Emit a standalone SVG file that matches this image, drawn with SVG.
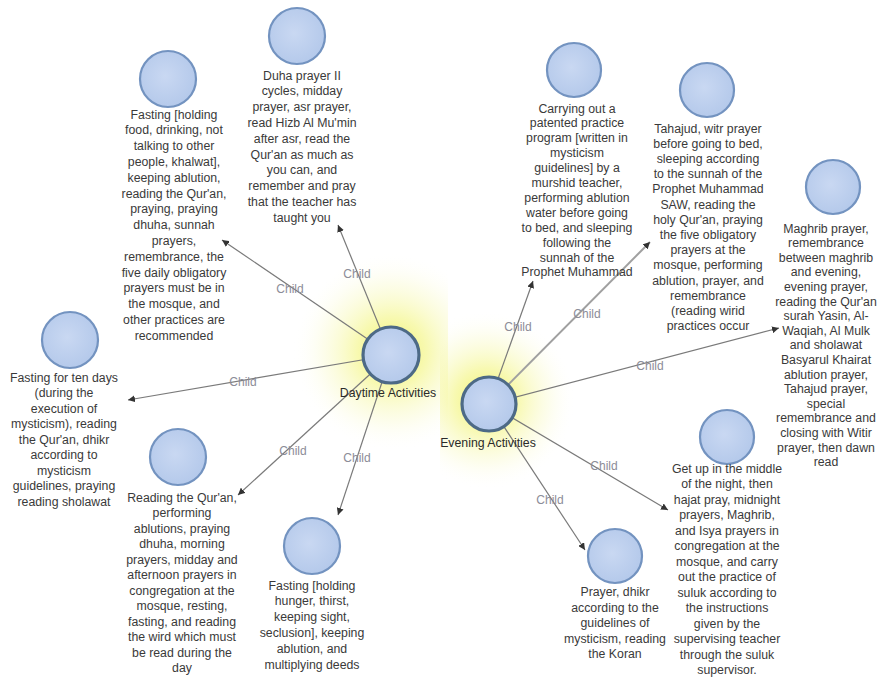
<svg xmlns="http://www.w3.org/2000/svg" width="877" height="677" viewBox="0 0 877 677">
<style>
.nt{font-family:"Liberation Sans",Arial,sans-serif;font-size:12.3px;fill:#3a3a3a;text-anchor:middle}
.ct{font-family:"Liberation Sans",Arial,sans-serif;font-size:12.3px;fill:#2a2a2a;text-anchor:middle}
.lb{font-family:"Liberation Sans",Arial,sans-serif;font-size:12px;fill:#8c8c98;text-anchor:middle}
.leaf{fill:url(#nodeFill);stroke:#7393c0;stroke-width:2.2}
.hub{fill:url(#nodeFill);stroke:#4d6a86;stroke-width:3.2}
.edge{stroke:#7a7a7a;stroke-width:1.2;fill:none;marker-end:url(#arr)}
</style>
<defs>
<radialGradient id="nodeFill" cx="0.45" cy="0.45" r="0.6">
<stop offset="0" stop-color="#c9d8f2"/>
<stop offset="1" stop-color="#b3c8ea"/>
</radialGradient>
<radialGradient id="glow" cx="0.5" cy="0.5" r="0.5">
<stop offset="0" stop-color="#eef04a" stop-opacity="0.85"/>
<stop offset="0.35" stop-color="#f3f57e" stop-opacity="0.6"/>
<stop offset="0.7" stop-color="#f8f9c0" stop-opacity="0.3"/>
<stop offset="1" stop-color="#ffffff" stop-opacity="0"/>
</radialGradient>
<clipPath id="leftHalf"><rect x="0" y="0" width="448" height="677"/></clipPath>
<clipPath id="rightHalf"><rect x="440" y="0" width="437" height="677"/></clipPath>
<marker id="arr" viewBox="0 0 10 10" refX="10" refY="5" markerWidth="7" markerHeight="7" markerUnits="userSpaceOnUse" orient="auto">
<path d="M0,0 L10,5 L0,10 z" fill="#333"/>
</marker>
</defs>
<rect width="877" height="677" fill="#ffffff"/>
<g id="glows">
<ellipse cx="392" cy="352" rx="100" ry="100" fill="url(#glow)" clip-path="url(#leftHalf)"/>
<ellipse cx="486" cy="400" rx="90" ry="90" fill="url(#glow)" clip-path="url(#rightHalf)"/>
</g>
<g id="connectors">
<line class="edge" x1="391" y1="355" x2="222" y2="240"/>
<line class="edge" x1="391" y1="355" x2="338" y2="225"/>
<line class="edge" x1="391" y1="355" x2="128" y2="400"/>
<line class="edge" x1="391" y1="355" x2="238" y2="495"/>
<line class="edge" x1="391" y1="355" x2="338" y2="515"/>
<line class="edge" x1="489" y1="404" x2="533" y2="281"/>
<line class="edge" x1="489" y1="404" x2="650" y2="242" style="stroke:#a0a0a0;stroke-width:2"/>
<line class="edge" x1="489" y1="404" x2="779" y2="328"/>
<line class="edge" x1="489" y1="404" x2="668" y2="510"/>
<line class="edge" x1="489" y1="404" x2="585" y2="550"/>
<text class="lb" x="290" y="293">Child</text>
<text class="lb" x="357" y="278">Child</text>
<text class="lb" x="243" y="386">Child</text>
<text class="lb" x="293" y="455">Child</text>
<text class="lb" x="357" y="462">Child</text>
<text class="lb" x="518" y="331">Child</text>
<text class="lb" x="587" y="318">Child</text>
<text class="lb" x="650" y="370">Child</text>
<text class="lb" x="604" y="470">Child</text>
<text class="lb" x="550" y="504">Child</text>
</g>
<g id="daytime">
<circle class="hub" cx="391" cy="355" r="28"/>
<text class="ct" x="388" y="397">Daytime Activities</text>
</g>
<g id="evening">
<circle class="hub" cx="489" cy="404" r="27"/>
<text class="ct" x="488" y="447">Evening Activities</text>
</g>
<g id="node-fasting-food">
<circle class="leaf" cx="168" cy="79" r="28"/>
<text class="nt" x="174" y="118.5"><tspan x="174">Fasting [holding</tspan><tspan x="174" dy="15.8">food, drinking, not</tspan><tspan x="174" dy="15.8">talking to other</tspan><tspan x="174" dy="15.8">people, khalwat],</tspan><tspan x="174" dy="15.8">keeping ablution,</tspan><tspan x="174" dy="15.8">reading the Qur'an,</tspan><tspan x="174" dy="15.8">praying, praying</tspan><tspan x="174" dy="15.8">dhuha, sunnah</tspan><tspan x="174" dy="15.8">prayers,</tspan><tspan x="174" dy="15.8">remembrance, the</tspan><tspan x="174" dy="15.8">five daily obligatory</tspan><tspan x="174" dy="15.8">prayers must be in</tspan><tspan x="174" dy="15.8">the mosque, and</tspan><tspan x="174" dy="15.8">other practices are</tspan><tspan x="174" dy="15.8">recommended</tspan></text>
</g>
<g id="node-duha">
<circle class="leaf" cx="297" cy="36" r="28"/>
<text class="nt" x="302" y="79.5"><tspan x="302">Duha prayer II</tspan><tspan x="302" dy="15.8">cycles, midday</tspan><tspan x="302" dy="15.8">prayer, asr prayer,</tspan><tspan x="302" dy="15.8">read Hizb Al Mu'min</tspan><tspan x="302" dy="15.8">after asr, read the</tspan><tspan x="302" dy="15.8">Qur'an as much as</tspan><tspan x="302" dy="15.8">you can, and</tspan><tspan x="302" dy="15.8">remember and pray</tspan><tspan x="302" dy="15.8">that the teacher has</tspan><tspan x="302" dy="15.8">taught you</tspan></text>
</g>
<g id="node-fasting-ten-days">
<circle class="leaf" cx="70" cy="340" r="28"/>
<text class="nt" x="64" y="381.5"><tspan x="64">Fasting for ten days</tspan><tspan x="64" dy="15.5">(during the</tspan><tspan x="64" dy="15.5">execution of</tspan><tspan x="64" dy="15.5">mysticism), reading</tspan><tspan x="64" dy="15.5">the Qur'an, dhikr</tspan><tspan x="64" dy="15.5">according to</tspan><tspan x="64" dy="15.5">mysticism</tspan><tspan x="64" dy="15.5">guidelines, praying</tspan><tspan x="64" dy="15.5">reading sholawat</tspan></text>
</g>
<g id="node-reading">
<circle class="leaf" cx="178" cy="457" r="28"/>
<text class="nt" x="182" y="501.5"><tspan x="182">Reading the Qur'an,</tspan><tspan x="182" dy="15.5">performing</tspan><tspan x="182" dy="15.5">ablutions, praying</tspan><tspan x="182" dy="15.5">dhuha, morning</tspan><tspan x="182" dy="15.5">prayers, midday and</tspan><tspan x="182" dy="15.5">afternoon prayers in</tspan><tspan x="182" dy="15.5">congregation at the</tspan><tspan x="182" dy="15.5">mosque, resting,</tspan><tspan x="182" dy="15.5">fasting, and reading</tspan><tspan x="182" dy="15.5">the wird which must</tspan><tspan x="182" dy="15.5">be read during the</tspan><tspan x="182" dy="15.5">day</tspan></text>
</g>
<g id="node-fasting-hunger">
<circle class="leaf" cx="312" cy="546" r="28"/>
<text class="nt" x="312" y="589.5"><tspan x="312">Fasting [holding</tspan><tspan x="312" dy="15.8">hunger, thirst,</tspan><tspan x="312" dy="15.8">keeping sight,</tspan><tspan x="312" dy="15.8">seclusion], keeping</tspan><tspan x="312" dy="15.8">ablution, and</tspan><tspan x="312" dy="15.8">multiplying deeds</tspan></text>
</g>
<g id="node-carrying-out">
<circle class="leaf" cx="574" cy="70" r="27"/>
<text class="nt" x="577" y="112.5"><tspan x="577">Carrying out a</tspan><tspan x="577" dy="14.9">patented practice</tspan><tspan x="577" dy="14.9">program [written in</tspan><tspan x="577" dy="14.9">mysticism</tspan><tspan x="577" dy="14.9">guidelines] by a</tspan><tspan x="577" dy="14.9">murshid teacher,</tspan><tspan x="577" dy="14.9">performing ablution</tspan><tspan x="577" dy="14.9">water before going</tspan><tspan x="577" dy="14.9">to bed, and sleeping</tspan><tspan x="577" dy="14.9">following the</tspan><tspan x="577" dy="14.9">sunnah of the</tspan><tspan x="577" dy="14.9">Prophet Muhammad</tspan></text>
</g>
<g id="node-tahajud">
<circle class="leaf" cx="707" cy="90" r="27"/>
<text class="nt" x="708" y="132.5"><tspan x="708">Tahajud, witr prayer</tspan><tspan x="708" dy="15.2">before going to bed,</tspan><tspan x="708" dy="15.2">sleeping according</tspan><tspan x="708" dy="15.2">to the sunnah of the</tspan><tspan x="708" dy="15.2">Prophet Muhammad</tspan><tspan x="708" dy="15.2">SAW, reading the</tspan><tspan x="708" dy="15.2">holy Qur'an, praying</tspan><tspan x="708" dy="15.2">the five obligatory</tspan><tspan x="708" dy="15.2">prayers at the</tspan><tspan x="708" dy="15.2">mosque, performing</tspan><tspan x="708" dy="15.2">ablution, prayer, and</tspan><tspan x="708" dy="15.2">remembrance</tspan><tspan x="708" dy="15.2">(reading wirid</tspan><tspan x="708" dy="15.2">practices occur</tspan></text>
</g>
<g id="node-maghrib">
<circle class="leaf" cx="833" cy="187" r="27"/>
<text class="nt" x="826" y="232.5"><tspan x="826">Maghrib prayer,</tspan><tspan x="826" dy="14.6">remembrance</tspan><tspan x="826" dy="14.6">between maghrib</tspan><tspan x="826" dy="14.6">and evening,</tspan><tspan x="826" dy="14.6">evening prayer,</tspan><tspan x="826" dy="14.6">reading the Qur'an</tspan><tspan x="826" dy="14.6">surah Yasin, Al-</tspan><tspan x="826" dy="14.6">Waqiah, Al Mulk</tspan><tspan x="826" dy="14.6">and sholawat</tspan><tspan x="826" dy="14.6">Basyarul Khairat</tspan><tspan x="826" dy="14.6">ablution prayer,</tspan><tspan x="826" dy="14.6">Tahajud prayer,</tspan><tspan x="826" dy="14.6">special</tspan><tspan x="826" dy="14.6">remembrance and</tspan><tspan x="826" dy="14.6">closing with Witir</tspan><tspan x="826" dy="14.6">prayer, then dawn</tspan><tspan x="826" dy="14.6">read</tspan></text>
</g>
<g id="node-get-up">
<circle class="leaf" cx="727" cy="437" r="27"/>
<text class="nt" x="727" y="472.5"><tspan x="727">Get up in the middle</tspan><tspan x="727" dy="15.5">of the night, then</tspan><tspan x="727" dy="15.5">hajat pray, midnight</tspan><tspan x="727" dy="15.5">prayers, Maghrib,</tspan><tspan x="727" dy="15.5">and Isya prayers in</tspan><tspan x="727" dy="15.5">congregation at the</tspan><tspan x="727" dy="15.5">mosque, and carry</tspan><tspan x="727" dy="15.5">out the practice of</tspan><tspan x="727" dy="15.5">suluk according to</tspan><tspan x="727" dy="15.5">the instructions</tspan><tspan x="727" dy="15.5">given by the</tspan><tspan x="727" dy="15.5">supervising teacher</tspan><tspan x="727" dy="15.5">through the suluk</tspan><tspan x="727" dy="15.5">supervisor.</tspan></text>
</g>
<g id="node-prayer-dhikr">
<circle class="leaf" cx="615" cy="556" r="27"/>
<text class="nt" x="615" y="596"><tspan x="615">Prayer, dhikr</tspan><tspan x="615" dy="15.5">according to the</tspan><tspan x="615" dy="15.5">guidelines of</tspan><tspan x="615" dy="15.5">mysticism, reading</tspan><tspan x="615" dy="15.5">the Koran</tspan></text>
</g>
</svg>
